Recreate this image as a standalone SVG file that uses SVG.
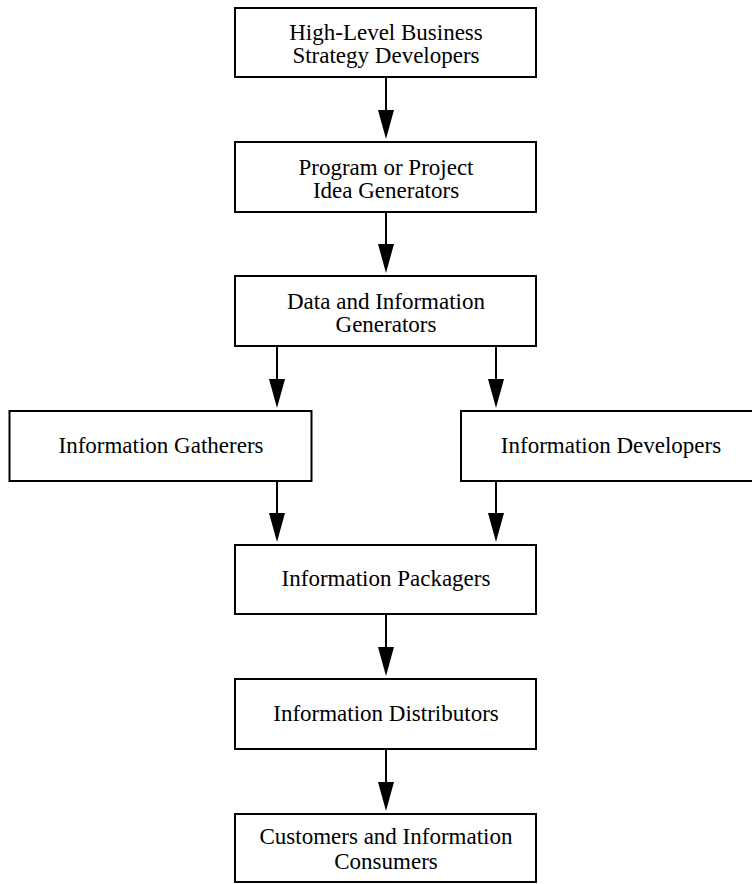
<svg xmlns="http://www.w3.org/2000/svg" width="752" height="884" viewBox="0 0 752 884">
<style>
rect.box{fill:#fff;stroke:#000;stroke-width:2}
text{font-family:"Liberation Serif","Times New Roman",serif;font-size:23px;fill:#000;text-anchor:middle}
.conn line{stroke:#000;stroke-width:2}
.conn polygon{fill:#000}
</style>
<rect width="752" height="884" fill="#fff"/>
<g id="n1"><rect class="box" x="235" y="8" width="301" height="69"/><text x="386" y="40">High-Level Business</text><text x="386" y="63">Strategy Developers</text></g>
<g id="n2"><rect class="box" x="235" y="142" width="301" height="70"/><text x="386" y="175">Program or Project</text><text x="386" y="198">Idea Generators</text></g>
<g id="n3"><rect class="box" x="235" y="276" width="301" height="70"/><text x="386" y="309">Data and Information</text><text x="386" y="332">Generators</text></g>
<g id="n4"><rect class="box" x="9.5" y="411" width="302" height="70"/><text x="161" y="453">Information Gatherers</text></g>
<g id="n5"><rect class="box" x="461" y="411" width="300" height="70"/><text x="611" y="453">Information Developers</text></g>
<g id="n6"><rect class="box" x="235" y="545" width="301" height="69"/><text x="386" y="586">Information Packagers</text></g>
<g id="n7"><rect class="box" x="235" y="679" width="301" height="70"/><text x="386" y="721">Information Distributors</text></g>
<g id="n8"><rect class="box" x="235" y="814" width="301" height="68"/><text x="386" y="844">Customers and Information</text><text x="386" y="869">Consumers</text></g>
<g class="conn" id="connectors">
<line x1="386" y1="78" x2="386" y2="110"/><polygon points="378,110 394,110 386,139"/>
<line x1="386" y1="213" x2="386" y2="244"/><polygon points="378,244 394,244 386,273"/>
<line x1="277" y1="347" x2="277" y2="379"/><polygon points="269,379 285,379 277,408"/>
<line x1="496" y1="347" x2="496" y2="379"/><polygon points="488,379 504,379 496,408"/>
<line x1="277" y1="482" x2="277" y2="513"/><polygon points="269,513 285,513 277,542"/>
<line x1="496" y1="482" x2="496" y2="513"/><polygon points="488,513 504,513 496,542"/>
<line x1="386" y1="615" x2="386" y2="647"/><polygon points="378,647 394,647 386,676"/>
<line x1="386" y1="750" x2="386" y2="782"/><polygon points="378,782 394,782 386,811"/>
</g>
</svg>
